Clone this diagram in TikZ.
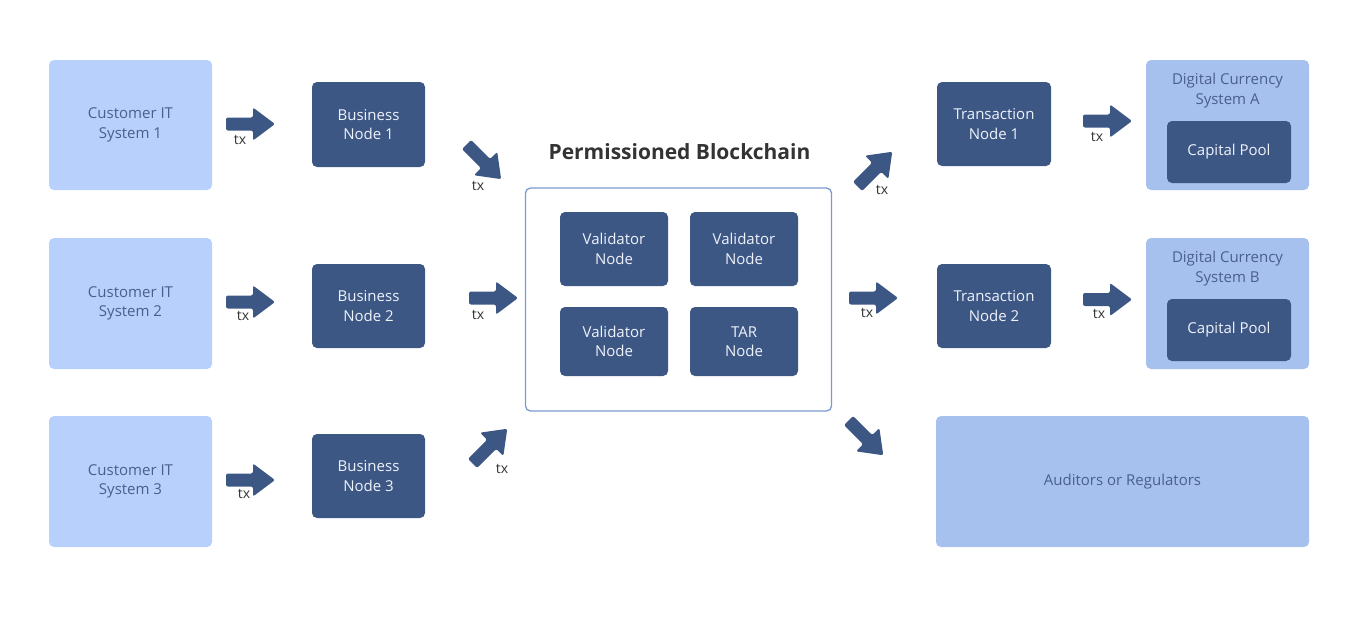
\documentclass[tikz,border=0pt]{standalone}
\usepackage{fontspec}
\setmainfont{Open Sans}
\definecolor{lightA}{HTML}{B8D0FC}
\definecolor{lightB}{HTML}{A7C1EF}
\definecolor{darkN}{HTML}{3D5785}
\definecolor{txtL}{HTML}{4A5F8C}
\definecolor{txtD}{HTML}{EEF2FA}
\definecolor{bcBorder}{HTML}{7B9AD0}
\definecolor{txGray}{HTML}{333333}
\begin{document}
\begin{tikzpicture}[x=1pt,y=-1pt,
  every node/.style={inner sep=0pt, outer sep=0pt, align=center, font=\fontsize{15}{19.5}\selectfont},
  lightbox/.style={fill=lightA, rounded corners=5pt, text=txtL},
  lightboxB/.style={fill=lightB, rounded corners=5pt, text=txtL},
  darkbox/.style={fill=darkN, rounded corners=5pt, text=txtD},
  chainbox/.style={draw=bcBorder, line width=1.3pt, fill=white, rounded corners=5pt},
  txlabel/.style={text=txGray, font=\fontsize{14}{16}\selectfont},
  barrow/.pic={\fill[darkN, rounded corners=2pt] (0,-6.5) -- (27,-6.5) -- (27,-16.5) -- (49,0) -- (27,16.5) -- (27,6.5) -- (0,6.5) -- cycle;}
]
\useasboundingbox (0,0) rectangle (1360,638);

% left column
\node[lightbox, minimum width=163pt, minimum height=130pt] (c1) at (130.5,125) {Customer IT\\System 1};
\node[lightbox, minimum width=163pt, minimum height=131pt] (c2) at (130.5,303.5) {Customer IT\\System 2};
\node[lightbox, minimum width=163pt, minimum height=131pt] (c3) at (130.5,481.5) {Customer IT\\System 3};

% business nodes
\node[darkbox, minimum width=113pt, minimum height=85pt] (b1) at (368.5,124.5) {Business\\Node 1};
\node[darkbox, minimum width=113pt, minimum height=84pt] (b2) at (368.5,306) {Business\\Node 2};
\node[darkbox, minimum width=113pt, minimum height=84pt] (b3) at (368.5,476) {Business\\Node 3};

% blockchain
\node[chainbox, minimum width=306pt, minimum height=223pt] (bc) at (678.5,299.5) {};
\node[font=\fontsize{21}{24}\selectfont\bfseries, text=txGray] (bct) at (679.5,152) {Permissioned Blockchain};
\node[darkbox, minimum width=108pt, minimum height=74pt] (v1) at (614,249) {Validator\\Node};
\node[darkbox, minimum width=108pt, minimum height=74pt] (v2) at (744,249) {Validator\\Node};
\node[darkbox, minimum width=108pt, minimum height=69pt] (v3) at (614,341.5) {Validator\\Node};
\node[darkbox, minimum width=108pt, minimum height=69pt] (tar) at (744,341.5) {TAR\\Node};

% transaction nodes
\node[darkbox, minimum width=114pt, minimum height=84pt] (t1) at (994,124) {Transaction\\Node 1};
\node[darkbox, minimum width=114pt, minimum height=84pt] (t2) at (994,306) {Transaction\\Node 2};

% digital currency systems
\node[lightboxB, minimum width=163pt, minimum height=130pt] (da) at (1227.5,125) {};
\node[text=txtL] (dat) at (1227.5,90.5) {Digital Currency\\System A};
\node[darkbox, minimum width=124pt, minimum height=62pt] (pa) at (1229,152) {Capital Pool};
\node[lightboxB, minimum width=163pt, minimum height=131pt] (db) at (1227.5,303.5) {};
\node[text=txtL] (dbt) at (1227.5,268.5) {Digital Currency\\System B};
\node[darkbox, minimum width=124pt, minimum height=62pt] (pb) at (1229,330) {Capital Pool};

% auditors
\node[lightboxB, minimum width=373pt, minimum height=131pt] (au) at (1122.5,481.5) {Auditors or Regulators};

% arrows
\coordinate (a1) at (226,124);
\coordinate (a2) at (226,302);
\coordinate (a3) at (226,480);
\coordinate (a4) at (466.5,144.5);
\coordinate (a5) at (469,298);
\coordinate (a6) at (472.6,463.4);
\coordinate (a7) at (857.6,186.4);
\coordinate (a8) at (849,298);
\coordinate (a9) at (848.6,420.6);
\coordinate (a10) at (1083,121);
\coordinate (a11) at (1083,299.5);

\pic at (a1) {barrow};
\pic at (a2) {barrow};
\pic at (a3) {barrow};
\pic[rotate=-45] at (a4) {barrow};
\pic at (a5) {barrow};
\pic[rotate=45] at (a6) {barrow};
\pic[rotate=45] at (a7) {barrow};
\pic at (a8) {barrow};
\pic[rotate=-45] at (a9) {barrow};
\pic at (a10) {barrow};
\pic at (a11) {barrow};

% tx labels
\node[txlabel] (x1) at (240,140) {tx};
\node[txlabel] (x2) at (243,316) {tx};
\node[txlabel] (x3) at (244,494) {tx};
\node[txlabel] (x4) at (478,186) {tx};
\node[txlabel] (x5) at (478,315) {tx};
\node[txlabel] (x6) at (502,469) {tx};
\node[txlabel] (x7) at (882,190) {tx};
\node[txlabel] (x8) at (867,313) {tx};
\node[txlabel] (x9) at (1097,137) {tx};
\node[txlabel] (x10) at (1099,314) {tx};
\end{tikzpicture}
\end{document}
